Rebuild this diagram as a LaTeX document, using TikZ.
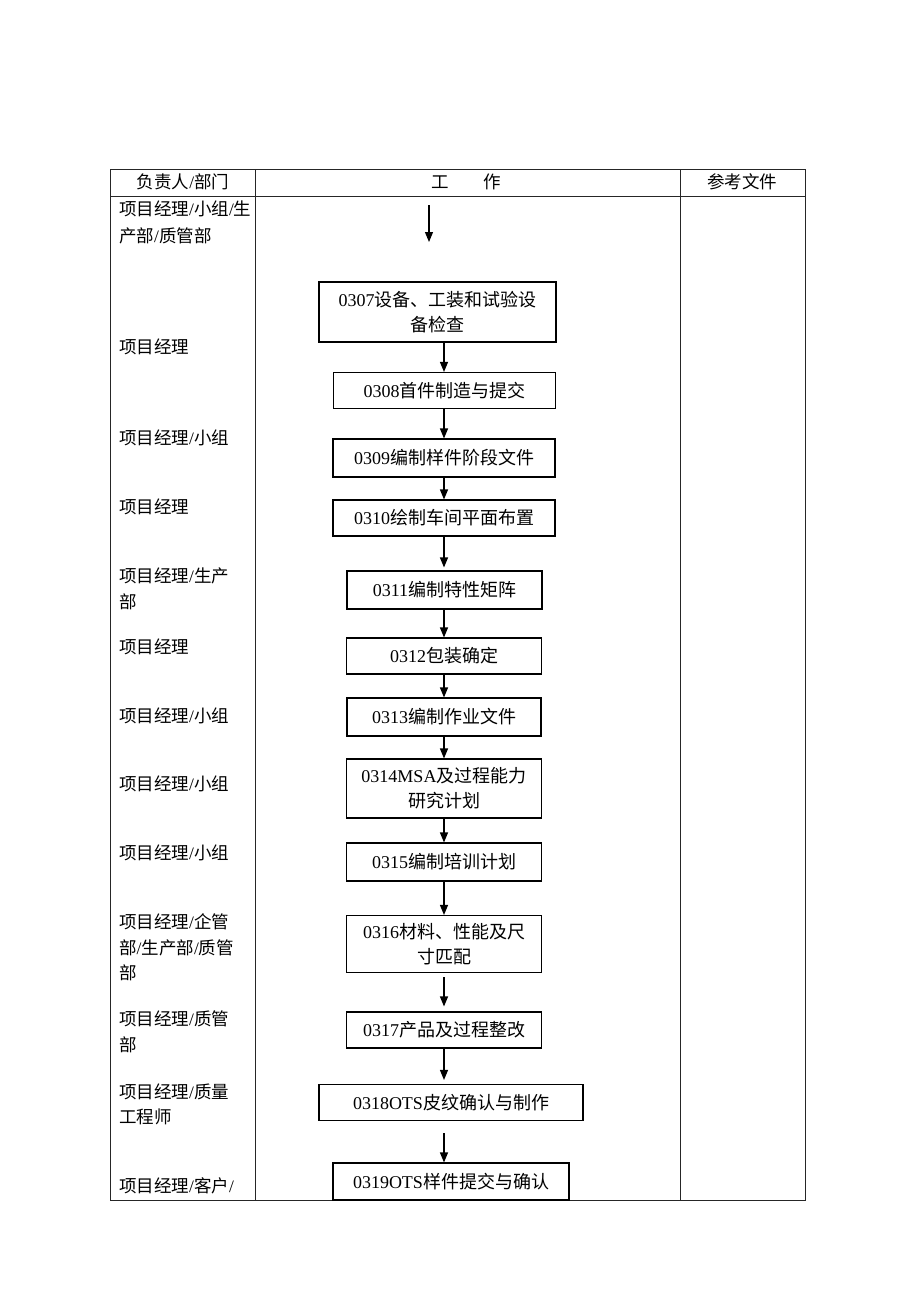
\documentclass[tikz,border=0pt]{standalone}
\usepackage{fontspec}
\setmainfont{Liberation Serif}
\newfontfamily\cjkfont{Noto Sans CJK SC}
\newcommand\zhtxt[1]{{\cjkfont #1}}
\newcommand\slh{{\rmfamily/}}
\usetikzlibrary{arrows.meta}
\begin{document}
\begin{tikzpicture}[x=1pt,y=-1pt,
  grid/.style={line width=0.9pt,draw=black!85},
  lbl/.style={anchor=west,inner sep=0pt,font=\fontsize{17.5}{22}\selectfont\cjkfont},
  hdr/.style={inner sep=0pt,font=\fontsize{17.5}{22}\selectfont\cjkfont},
  stepbox/.style={draw,line width=1.1pt,inner sep=2pt,align=center,
    font=\fontsize{18}{25}\selectfont},
  arr/.style={line width=1.1pt,-{Triangle[length=10pt,width=8pt]}}]
\useasboundingbox (0,0) rectangle (920,1302);
\fill[white] (0,0) rectangle (920,1302);
% table
\draw[grid] (110,169) rectangle (805,1200);
\draw[grid] (110,196) -- (805,196);
\draw[grid] (255,169) -- (255,1200);
\draw[grid] (680,169) -- (680,1200);
% header
\node[hdr] (h1) at (183,182) {负责人\slh 部门};
\node[hdr] (h2a) at (440,182) {工};
\node[hdr] (h2b) at (492,182) {作};
\node[hdr] (h3) at (742,182) {参考文件};
% left column
\node[lbl] (r1a) at (119,209) {项目经理\slh 小组\slh 生};
\node[lbl] (r1b) at (119,236) {产部\slh 质管部};
\node[lbl] (r2) at (119,347) {项目经理};
\node[lbl] (r3) at (119,438) {项目经理\slh 小组};
\node[lbl] (r4) at (119,507) {项目经理};
\node[lbl] (r5a) at (119,576) {项目经理\slh 生产};
\node[lbl] (r5b) at (119,602) {部};
\node[lbl] (r6) at (119,647) {项目经理};
\node[lbl] (r7) at (119,716) {项目经理\slh 小组};
\node[lbl] (r8) at (119,784) {项目经理\slh 小组};
\node[lbl] (r9) at (119,853) {项目经理\slh 小组};
\node[lbl] (r10a) at (119,922) {项目经理\slh 企管};
\node[lbl] (r10b) at (119,948) {部\slh 生产部\slh 质管};
\node[lbl] (r10c) at (119,973) {部};
\node[lbl] (r11a) at (119,1019) {项目经理\slh 质管};
\node[lbl] (r11b) at (119,1045) {部};
\node[lbl] (r12a) at (119,1092) {项目经理\slh 质量};
\node[lbl] (r12b) at (119,1117) {工程师};
\node[lbl] (r13) at (119,1186) {项目经理\slh 客户\slh};
% boxes
\node[stepbox,minimum width=237pt,minimum height=60pt] (b307) at (437.5,312)
  {0307\zhtxt{设备、工装和试验设}\\\zhtxt{备检查}};
\node[stepbox,minimum width=222pt,minimum height=36pt] (b308) at (444.5,390.5)
  {0308\zhtxt{首件制造与提交}};
\node[stepbox,minimum width=222pt,minimum height=38pt] (b309) at (444,458)
  {0309\zhtxt{编制样件阶段文件}};
\node[stepbox,minimum width=222pt,minimum height=36pt] (b310) at (444,518)
  {0310\zhtxt{绘制车间平面布置}};
\node[stepbox,minimum width=195pt,minimum height=38pt] (b311) at (444.5,590)
  {0311\zhtxt{编制特性矩阵}};
\node[stepbox,minimum width=195pt,minimum height=36pt] (b312) at (444,656)
  {0312\zhtxt{包装确定}};
\node[stepbox,minimum width=194pt,minimum height=38pt] (b313) at (444,717)
  {0313\zhtxt{编制作业文件}};
\node[stepbox,minimum width=195pt,minimum height=59pt] (b314) at (444,788.5)
  {0314MSA\zhtxt{及过程能力}\\\zhtxt{研究计划}};
\node[stepbox,minimum width=195pt,minimum height=38pt] (b315) at (444,862)
  {0315\zhtxt{编制培训计划}};
\node[stepbox,minimum width=195pt,minimum height=57pt] (b316) at (444,944)
  {0316\zhtxt{材料、性能及尺}\\\zhtxt{寸匹配}};
\node[stepbox,minimum width=195pt,minimum height=36pt] (b317) at (444,1030)
  {0317\zhtxt{产品及过程整改}};
\node[stepbox,minimum width=264pt,minimum height=36pt] (b318) at (451,1102.5)
  {0318OTS\zhtxt{皮纹确认与制作}};
\node[stepbox,minimum width=236pt,minimum height=37pt] (b319) at (451,1181.5)
  {0319OTS\zhtxt{样件提交与确认}};
% arrows
\coordinate (s0) at (429,205);
\coordinate (s1) at (429,242);
\draw[arr] (s0) -- (s1);
\coordinate (ax) at (444,0);
\draw[arr] (b307.south -| ax) -- (b308.north -| ax);
\draw[arr] (b308.south -| ax) -- (b309.north -| ax);
\draw[arr] (b309.south -| ax) -- (b310.north -| ax);
\draw[arr,shorten >=3pt] (b310.south -| ax) -- (b311.north -| ax);
\draw[arr] (b311.south -| ax) -- (b312.north -| ax);
\draw[arr] (b312.south -| ax) -- (b313.north -| ax);
\draw[arr] (b313.south -| ax) -- (b314.north -| ax);
\draw[arr] (b314.south -| ax) -- (b315.north -| ax);
\draw[arr] (b315.south -| ax) -- (b316.north -| ax);
\draw[arr,shorten <=4pt,shorten >=5pt] (b316.south -| ax) -- (b317.north -| ax);
\draw[arr,shorten >=4pt] (b317.south -| ax) -- (b318.north -| ax);
\draw[arr,shorten <=12pt] (b318.south -| ax) -- (b319.north -| ax);
\end{tikzpicture}
\end{document}
